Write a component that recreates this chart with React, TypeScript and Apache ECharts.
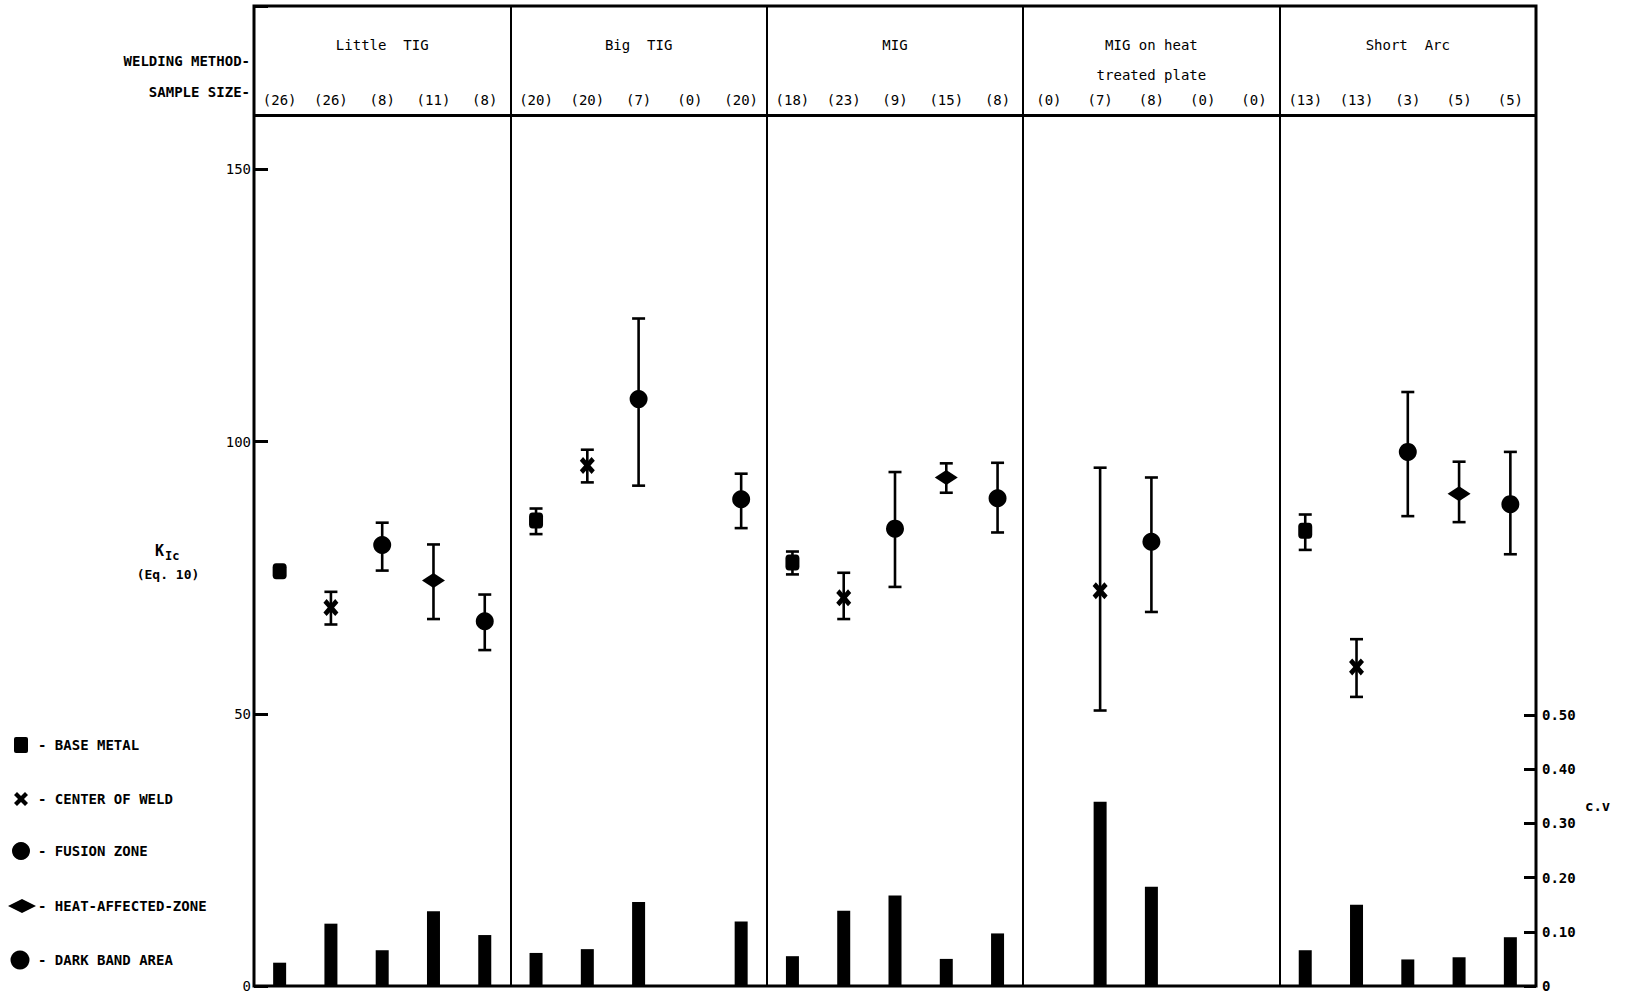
import React, { useEffect, useRef } from 'react';
import * as echarts from 'echarts';

// ---------- data ----------
const weldingMethods = ['Little  TIG', 'Big  TIG', 'MIG', 'MIG on heat\ntreated plate', 'Short  Arc'];
const zoneNames = ['BASE METAL', 'CENTER OF WELD', 'FUSION ZONE', 'HEAT-AFFECTED-ZONE', 'DARK BAND AREA'];

// 25 categories: 5 zones for each welding method (method-major order)
const sampleSizes = [
  26, 26, 8, 11, 8, // Little TIG
  20, 20, 7, 0, 20, // Big TIG
  18, 23, 9, 15, 8, // MIG
  0, 7, 8, 0, 0, // MIG on heat treated plate
  13, 13, 3, 5, 5, // Short Arc
];
const kicMean = [
  76.2, 69.5, 81.0, 74.5, 67.0,
  85.5, 95.6, 107.8, null, 89.4,
  77.8, 71.3, 84.0, 93.4, 89.6,
  null, 72.6, 81.6, null, null,
  83.6, 58.6, 98.1, 90.4, 88.5,
];
const kicLow = [
  null, 66.4, 76.3, 67.4, 61.7,
  83.0, 92.5, 91.9, null, 84.1,
  75.6, 67.4, 73.3, 90.6, 83.3,
  null, 50.6, 68.7, null, null,
  80.1, 53.1, 86.3, 85.2, 79.3,
];
const kicHigh = [
  null, 72.4, 85.1, 81.1, 71.9,
  87.7, 98.5, 122.6, null, 94.1,
  79.8, 75.9, 94.4, 96.0, 96.1,
  null, 95.2, 93.4, null, null,
  86.6, 63.7, 109.1, 96.3, 98.1,
];
const coeffVar = [
  0.043, 0.115, 0.066, 0.138, 0.094,
  0.061, 0.068, 0.155, null, 0.119,
  0.055, 0.139, 0.167, 0.050, 0.097,
  null, 0.340, 0.183, null, null,
  0.066, 0.150, 0.049, 0.053, 0.090,
];
const kicTicks = [0, 50, 100, 150];
const cvTicks = [0, 0.1, 0.2, 0.3, 0.4, 0.5];

// ---------- styling ----------
const FONT = 'DejaVu Sans Mono';
const X_PATH = 'path://M0,3 L3,0 L7,4 L11,0 L14,3 L10,7 L14,11 L11,14 L7,10 L3,14 L0,11 L4,7 Z';
const zoneSymbols = ['roundRect', X_PATH, 'circle', 'diamond', 'circle'];
const zoneSymbolSizes: any[] = [[14, 16], [15, 17], 18, [23, 15], 18];

const categories = weldingMethods.flatMap((m) => zoneNames.map((z) => `${m.replace('\n', ' ')} / ${z}`));

export default function App() {
  const ref = useRef<HTMLDivElement>(null);
  useEffect(() => {
    if (!ref.current) return;
    const chart = echarts.init(ref.current, null, { renderer: 'svg' });

    const scatterSeries = zoneNames.map((name, z) => ({
      type: 'scatter',
      name,
      xAxisIndex: 0,
      yAxisIndex: 0,
      symbol: zoneSymbols[z],
      symbolSize: zoneSymbolSizes[z],
      itemStyle: { color: '#000', opacity: 1 },
      z: 5,
      data: kicMean
        .map((v, i) => (i % 5 === z && v != null ? [i, v] : null))
        .filter((d) => d !== null),
    }));

    const errorData = kicMean
      .map((_, i) => (kicLow[i] != null && kicHigh[i] != null ? [i, kicLow[i], kicHigh[i]] : null))
      .filter((d) => d !== null);

    const renderErrorBar = (params: any, api: any) => {
      const x = api.value(0);
      const pLo = api.coord([x, api.value(1)]);
      const pHi = api.coord([x, api.value(2)]);
      const hw = 6.5;
      const style = { stroke: '#000', lineWidth: 2.6 };
      return {
        type: 'group',
        children: [
          { type: 'line', shape: { x1: pHi[0], y1: pHi[1], x2: pLo[0], y2: pLo[1] }, style },
          { type: 'line', shape: { x1: pHi[0] - hw, y1: pHi[1], x2: pHi[0] + hw, y2: pHi[1] }, style },
          { type: 'line', shape: { x1: pLo[0] - hw, y1: pLo[1], x2: pLo[0] + hw, y2: pLo[1] }, style },
        ],
      };
    };

    const legendY = [745, 799, 851, 906, 960];
    const cy = legendY[1];
    const legendGraphics: any[] = [
      { type: 'rect', shape: { x: 14, y: legendY[0] - 8, width: 14, height: 16, r: 2 }, style: { fill: '#000' } },
      {
        type: 'polygon',
        shape: {
          points: [
            [14, cy - 4], [17, cy - 7], [21, cy - 3], [25, cy - 7], [28, cy - 4],
            [24, cy], [28, cy + 4], [25, cy + 7], [21, cy + 3], [17, cy + 7],
            [14, cy + 4], [18, cy],
          ],
        },
        style: { fill: '#000' },
      },
      { type: 'circle', shape: { cx: 21, cy: legendY[2], r: 9 }, style: { fill: '#000' } },
      {
        type: 'polygon',
        shape: { points: [[8, legendY[3]], [22, legendY[3] - 7], [36, legendY[3]], [22, legendY[3] + 7]] },
        style: { fill: '#000' },
      },
      { type: 'circle', shape: { cx: 20, cy: legendY[4], r: 9.5 }, style: { fill: '#000' } },
      ...zoneNames.map((n, i) => ({
        type: 'text',
        x: 38,
        y: legendY[i],
        style: { text: '- ' + n, fill: '#000', font: `bold 14px "${FONT}"`, verticalAlign: 'middle' },
      })),
    ];

    const option: any = {
      animation: false,
      backgroundColor: '#fff',
      textStyle: { fontFamily: FONT },
      grid: [
        { left: 254, right: 93, top: 6, bottom: 5, show: true, borderColor: '#000', borderWidth: 3, backgroundColor: 'transparent' },
        { left: 254, right: 93, top: 715, bottom: 5, show: false },
      ],
      xAxis: [
        {
          type: 'category',
          gridIndex: 0,
          position: 'top',
          data: categories,
          axisLine: { show: false },
          axisTick: { show: false },
          splitLine: { show: false },
          axisLabel: {
            inside: true,
            interval: 0,
            margin: 87,
            verticalAlign: 'top',
            color: '#000',
            fontSize: 14,
            fontFamily: FONT,
            formatter: (_v: any, i: number) => `(${sampleSizes[i]})`,
          },
        },
        {
          type: 'category',
          gridIndex: 0,
          position: 'top',
          data: weldingMethods,
          axisLine: { show: false },
          axisTick: { show: false },
          splitLine: { show: true, lineStyle: { color: '#000', width: 2 } },
          axisLabel: {
            inside: true,
            interval: 0,
            margin: 24,
            verticalAlign: 'top',
            lineHeight: 30,
            color: '#000',
            fontSize: 14,
            fontFamily: FONT,
          },
        },
        { type: 'category', gridIndex: 1, data: categories, show: false },
      ],
      yAxis: [
        {
          type: 'value',
          gridIndex: 0,
          min: 0,
          max: 180,
          interval: 50,
          axisLine: { show: false },
          axisTick: { show: true, inside: true, length: 14, lineStyle: { color: '#000', width: 3 } },
          splitLine: { show: false },
          axisLabel: {
            margin: 3,
            color: '#000',
            fontSize: 14,
            fontFamily: FONT,
            formatter: (v: number) => (kicTicks.includes(v) ? String(v) : ''),
          },
        },
        {
          type: 'value',
          gridIndex: 1,
          position: 'right',
          min: 0,
          max: 0.5,
          interval: 0.1,
          axisLine: { show: false },
          axisTick: { show: true, inside: true, length: 12, lineStyle: { color: '#000', width: 3 } },
          splitLine: { show: false },
          axisLabel: {
            margin: 6,
            color: '#000',
            fontSize: 14,
            fontWeight: 'bold',
            fontFamily: FONT,
            formatter: (v: number) => {
              const t = cvTicks.find((c) => Math.abs(c - v) < 1e-9);
              if (t === undefined) return '';
              return t === 0 ? '0' : t.toFixed(2);
            },
          },
        },
      ],
      series: [
        {
          type: 'custom',
          name: 'K_Ic range',
          xAxisIndex: 0,
          yAxisIndex: 0,
          renderItem: renderErrorBar,
          encode: { x: 0, y: [1, 2] },
          data: errorData,
          z: 3,
        },
        ...scatterSeries.map((s, idx) =>
          idx === 0
            ? {
                ...s,
                markLine: {
                  silent: true,
                  symbol: 'none',
                  label: { show: false },
                  lineStyle: { color: '#000', width: 3, type: 'solid' },
                  data: [{ yAxis: 160 }],
                },
              }
            : s
        ),
        {
          type: 'bar',
          name: 'c.v',
          xAxisIndex: 2,
          yAxisIndex: 1,
          barWidth: 13,
          itemStyle: { color: '#000' },
          data: coeffVar.map((v) => (v == null ? '-' : v)),
        },
      ],
      graphic: [
        { type: 'text', x: 250, y: 61, style: { text: 'WELDING METHOD-', fill: '#000', font: `bold 14px "${FONT}"`, align: 'right', verticalAlign: 'middle' } },
        { type: 'text', x: 250, y: 92, style: { text: 'SAMPLE SIZE-', fill: '#000', font: `bold 14px "${FONT}"`, align: 'right', verticalAlign: 'middle' } },
        { type: 'text', x: 155, y: 551, style: { text: 'K', fill: '#000', font: `bold 15px "${FONT}"`, verticalAlign: 'middle' } },
        { type: 'text', x: 165, y: 556, style: { text: 'Ic', fill: '#000', font: `bold 12px "${FONT}"`, verticalAlign: 'middle' } },
        { type: 'text', x: 168, y: 574, style: { text: '(Eq. 10)', fill: '#000', font: `bold 13px "${FONT}"`, align: 'center', verticalAlign: 'middle' } },
        { type: 'text', x: 1585, y: 806, style: { text: 'c.v', fill: '#000', font: `bold 14px "${FONT}"`, verticalAlign: 'middle' } },
        ...legendGraphics,
      ],
    };

    chart.setOption(option);
    return () => chart.dispose();
  }, []);

  return <div ref={ref} style={{ position: 'fixed', left: 0, top: 0, width: 1629, height: 993, background: '#fff' }} />;
}
